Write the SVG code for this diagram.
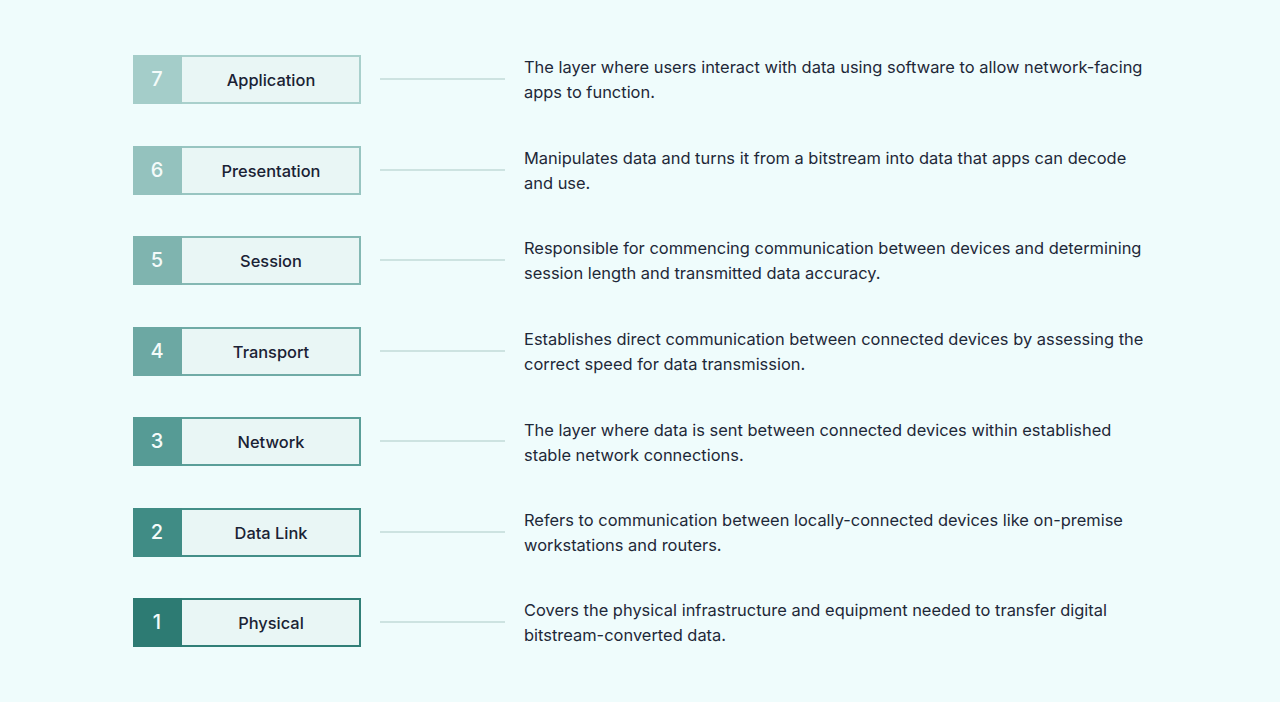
<svg xmlns="http://www.w3.org/2000/svg" width="1280" height="702" viewBox="0 0 1280 702">
<style>
.lbl{font-family:Inter,"Liberation Sans",sans-serif;font-size:16.4px;font-weight:500;fill:#1a2234;text-anchor:middle;dominant-baseline:central}
.num{font-family:Inter,"Liberation Sans",sans-serif;font-size:20px;font-weight:500;fill:#f4fbfa;text-anchor:middle;dominant-baseline:central}
.desc{font-family:Inter,"Liberation Sans",sans-serif;font-size:16.45px;fill:#1e2838}
.box{fill:#e9f6f5;stroke-width:2}
.conn line{stroke:#c2dbd8;stroke-width:1.5}
</style>
<rect width="1280" height="702" fill="#effcfc"/>
<g id="connectors" class="conn">
<line x1="380" y1="79" x2="505" y2="79"/>
<line x1="380" y1="170" x2="505" y2="170"/>
<line x1="380" y1="260" x2="505" y2="260"/>
<line x1="380" y1="351" x2="505" y2="351"/>
<line x1="380" y1="441" x2="505" y2="441"/>
<line x1="380" y1="532" x2="505" y2="532"/>
<line x1="380" y1="622" x2="505" y2="622"/>
</g>
<g id="layer7">
<rect class="box" x="134" y="56" width="226" height="47" stroke="#a9d0cc"/>
<rect x="133" y="55" width="49" height="49" fill="#a4cdc9"/>
<text class="num" x="157" y="79">7</text>
<text class="lbl" x="271" y="80">Application</text>
<text class="desc" x="524" y="73">The layer where users interact with data using software to allow network-facing</text>
<text class="desc" x="524" y="98">apps to function.</text>
</g>
<g id="layer6">
<rect class="box" x="134" y="147" width="226" height="47" stroke="#98c5c1"/>
<rect x="133" y="146" width="49" height="49" fill="#94c2be"/>
<text class="num" x="157" y="170">6</text>
<text class="lbl" x="271" y="171">Presentation</text>
<text class="desc" x="524" y="164">Manipulates data and turns it from a bitstream into data that apps can decode</text>
<text class="desc" x="524" y="189">and use.</text>
</g>
<g id="layer5">
<rect class="box" x="134" y="237" width="226" height="47" stroke="#84b8b3"/>
<rect x="133" y="236" width="49" height="49" fill="#7fb4af"/>
<text class="num" x="157" y="260">5</text>
<text class="lbl" x="271" y="261">Session</text>
<text class="desc" x="524" y="254">Responsible for commencing communication between devices and determining</text>
<text class="desc" x="524" y="279">session length and transmitted data accuracy.</text>
</g>
<g id="layer4">
<rect class="box" x="134" y="328" width="226" height="47" stroke="#70aba6"/>
<rect x="133" y="327" width="49" height="49" fill="#6ca8a3"/>
<text class="num" x="157" y="351">4</text>
<text class="lbl" x="271" y="352">Transport</text>
<text class="desc" x="524" y="345">Establishes direct communication between connected devices by assessing the</text>
<text class="desc" x="524" y="370">correct speed for data transmission.</text>
</g>
<g id="layer3">
<rect class="box" x="134" y="418" width="226" height="47" stroke="#5a9e98"/>
<rect x="133" y="417" width="49" height="49" fill="#569b95"/>
<text class="num" x="157" y="441">3</text>
<text class="lbl" x="271" y="442">Network</text>
<text class="desc" x="524" y="436">The layer where data is sent between connected devices within established</text>
<text class="desc" x="524" y="461">stable network connections.</text>
</g>
<g id="layer2">
<rect class="box" x="134" y="509" width="226" height="47" stroke="#448f88"/>
<rect x="133" y="508" width="49" height="49" fill="#408c85"/>
<text class="num" x="157" y="532">2</text>
<text class="lbl" x="271" y="533">Data Link</text>
<text class="desc" x="524" y="526">Refers to communication between locally-connected devices like on-premise</text>
<text class="desc" x="524" y="551">workstations and routers.</text>
</g>
<g id="layer1">
<rect class="box" x="134" y="599" width="226" height="47" stroke="#317f77"/>
<rect x="133" y="598" width="49" height="49" fill="#2d7b73"/>
<text class="num" x="157" y="622">1</text>
<text class="lbl" x="271" y="623">Physical</text>
<text class="desc" x="524" y="616">Covers the physical infrastructure and equipment needed to transfer digital</text>
<text class="desc" x="524" y="641">bitstream-converted data.</text>
</g>
</svg>
